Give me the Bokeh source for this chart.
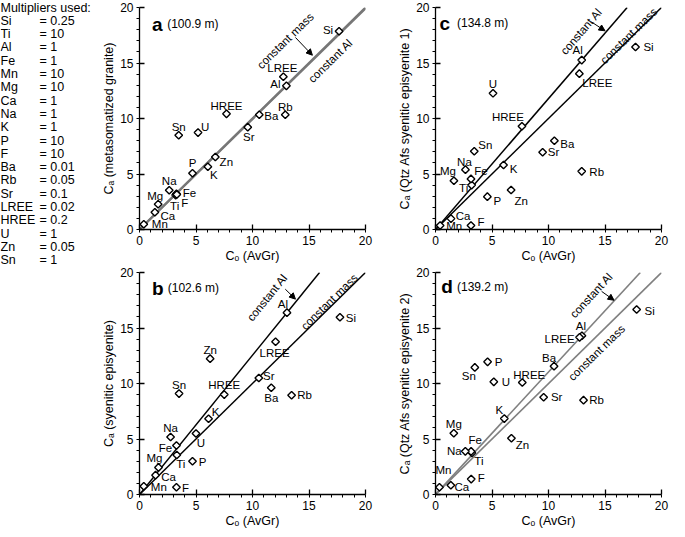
import math
from bokeh.plotting import figure
from bokeh.models import Range1d, Arrow, NormalHead, ColumnDataSource, SingleIntervalTicker
from bokeh.layouts import row, column
from bokeh.embed import file_html
from bokeh.resources import INLINE
from bokeh.core.properties import value

FONT = "Liberation Sans"

# ---------------- data ----------------
elements = ["Si", "Ti", "Al", "Fe", "Mn", "Mg", "Ca", "Na", "K", "P", "F",
            "Ba", "Rb", "Sr", "LREE", "HREE", "U", "Zn", "Sn"]
multipliers = ["0.25", "10", "1", "1", "10", "10", "1", "1", "1", "10", "10",
               "0.01", "0.05", "0.1", "0.02", "0.2", "1", "0.05", "1"]

# panel a (100.9 m) metasomatized granite
co_a = [17.66, 3.20, 13.00, 3.27, 0.38, 1.65, 1.36, 2.63, 6.05, 4.69, 3.30,
        10.60, 12.90, 9.58, 12.73, 7.70, 5.18, 6.71, 3.47]
ca_a = [17.86, 3.10, 12.94, 3.22, 0.47, 2.28, 1.55, 3.54, 5.65, 5.07, 3.15,
        10.34, 10.34, 9.22, 13.76, 10.42, 8.73, 6.53, 8.49]
# panel b (102.6 m) syenitic episyenite
co_b = [17.74, 3.30, 13.05, 3.27, 0.38, 1.68, 1.42, 2.75, 6.11, 4.69, 3.27,
        11.66, 13.46, 10.56, 12.04, 7.50, 5.00, 6.25, 3.50]
ca_b = [15.97, 3.56, 16.38, 4.41, 0.74, 2.44, 1.74, 5.18, 6.82, 3.00, 0.65,
        9.62, 8.94, 10.50, 13.76, 9.00, 5.50, 12.24, 9.09]
# panel c (134.8 m) Qtz Afs syenitic episyenite 1
co_c = [17.70, 3.20, 12.94, 3.14, 0.41, 1.63, 1.37, 2.65, 6.02, 4.59, 3.14,
        10.52, 12.94, 9.48, 12.73, 7.65, 5.09, 6.69, 3.43]
ca_c = [16.44, 4.00, 15.26, 4.56, 0.36, 4.39, 0.98, 5.39, 5.81, 2.96, 0.36,
        8.00, 5.24, 6.96, 14.04, 9.30, 12.27, 3.56, 7.05]
# panel d (139.2 m) Qtz Afs syenitic episyenite 2
co_d = [17.80, 3.22, 12.96, 3.15, 0.35, 1.62, 1.36, 2.64, 6.09, 4.61, 3.16,
        10.49, 13.10, 9.57, 12.75, 7.68, 5.16, 6.72, 3.48]
ca_d = [16.67, 3.75, 14.30, 3.88, 0.65, 5.52, 0.83, 3.89, 6.84, 11.95, 1.39,
        11.56, 8.50, 8.76, 14.16, 10.09, 10.15, 5.07, 11.45]

# ---------------- label placement (screen px, dx right, dy up) ----------------
off_a = [(-11, 1), (-1, -11), (-11, 2), (13, 1), (16, 0), (-3, 8), (13, -4), (0, 9),
         (6, -8), (0, 10), (8, -8), (12, -1), (0, 8), (1, -10), (-1, 9), (0, 8),
         (7, 6), (11, -5), (0, 8)]
off_b = [(11, -1), (4, -9), (-4, 9), (-11, -2), (15, -1), (-4, 9), (13, -2), (0, 9),
         (7, 7), (10, -1), (9, -1), (0, -10), (13, 0), (10, 2), (-1, -11), (0, 10),
         (5, -10), (0, 9), (0, 9)]
off_c = [(13, 0), (-8, -3), (-4, 10), (10, 8), (14, 0), (-6, 10), (12, 3), (-1, 8),
         (10, -4), (10, -4), (10, 4), (13, -3), (15, -1), (11, 0), (18, -9), (-14, 9),
         (0, 9), (10, -11), (11, 6)]
off_d = [(13, -2), (7, -8), (-1, 10), (4, 11), (4, 17), (0, 9), (11, -2), (-11, 0),
         (-5, 9), (11, 0), (10, 1), (-5, 8), (13, 0), (13, 0), (-20, -2), (7, 8),
         (12, 0), (11, -7), (-6, -9)]

FW, FH = 226, 222

panels = {
    "a": dict(depth="(100.9 m)", ylabel="Cₐ (metasomatized granite)", co=co_a, ca=ca_a,
              offs=off_a, color="#777777", lw=2.2, letter_x=1.1, depth_x=2.45, lab_y=18.5,
              mass=(12.9, 17.0), al=(16.9, 15.2), al_detached=False,
              arrow=((13.8, 17.3), (15.3, 15.7))),
    "b": dict(depth="(102.6 m)", ylabel="Cₐ (syenitic episyenite)", co=co_b, ca=ca_b,
              offs=off_b, color="black", lw=1.5, letter_x=1.1, depth_x=2.5, lab_y=18.6,
              mass=(16.8, 17.36), al=(11.3, 17.75), al_detached=True,
              arrow=((12.9, 18.5), (13.8, 17.6))),
    "c": dict(depth="(134.8 m)", ylabel="Cₐ (Qtz Afs syenitic episyenite 1)", co=co_c, ca=ca_c,
              offs=off_c, color="black", lw=1.5, letter_x=0.35, depth_x=1.9, lab_y=18.6,
              mass=(17.1, 17.45), al=(12.9, 17.85), al_detached=True,
              arrow=((13.8, 18.7), (15.0, 17.9))),
    "d": dict(depth="(139.2 m)", ylabel="Cₐ (Qtz Afs syenitic episyenite 2)", co=co_d, ca=ca_d,
              offs=off_d, color="#808080", lw=1.6, letter_x=0.5, depth_x=1.9, lab_y=18.7,
              mass=(14.26, 12.77), al=(13.8, 17.95), al_detached=True,
              arrow=((14.7, 18.3), (15.8, 17.5))),
}


def make_panel(key, border_left, border_right, border_top, border_bottom):
    cfg = panels[key]
    p = figure(frame_width=FW, frame_height=FH, x_range=Range1d(0, 20), y_range=Range1d(0, 20),
               output_backend="svg", toolbar_location=None,
               min_border_left=border_left, min_border_right=border_right,
               min_border_top=border_top, min_border_bottom=border_bottom)
    p.grid.visible = False
    p.outline_line_color = None
    p.background_fill_color = "white"
    p.border_fill_color = "white"
    p.xaxis.axis_label = "Cₒ (AvGr)"
    p.yaxis.axis_label = cfg["ylabel"]
    for ax in (p.xaxis[0], p.yaxis[0]):
        ax.ticker = SingleIntervalTicker(interval=5, num_minor_ticks=5)
        ax.axis_line_width = 1.3
        ax.major_tick_in = 5
        ax.major_tick_out = 0
        ax.minor_tick_in = 0
        ax.minor_tick_out = 3
        ax.major_tick_line_width = 1.3
        ax.minor_tick_line_width = 1
        ax.major_label_text_font = FONT
        ax.major_label_text_font_size = "12px"
        ax.major_label_text_color = "black"
        ax.axis_label_text_font = FONT
        ax.axis_label_text_font_size = "12.5px"
        ax.axis_label_text_font_style = "normal"
        ax.axis_label_text_color = "black"
        ax.major_label_standoff = 3
        ax.axis_label_standoff = 1

    co, ca = cfg["co"], cfg["ca"]
    al_slope = ca[elements.index("Al")] / co[elements.index("Al")]
    # isocons
    for s in (1.0, al_slope):
        xe = min(20.0, 20.0 / s)
        p.line([0, xe], [0, s * xe], line_color=cfg["color"], line_width=cfg["lw"])

    src = ColumnDataSource(dict(x=co, y=ca, t=elements,
                                xo=[o[0] for o in cfg["offs"]],
                                yo=[-o[1] for o in cfg["offs"]]))
    p.scatter("x", "y", source=src, marker="square", angle=math.pi / 4, size=5.4,
              fill_color="white", line_color="black", line_width=1.4)
    p.text("x", "y", text="t", x_offset="xo", y_offset="yo", source=src,
           text_font=value(FONT), text_font_size="11.5px", text_color="black",
           text_align="center", text_baseline="middle")

    # isocon names
    ang_mass = math.atan(1.0 * FH / FW)
    ang_al = math.atan(al_slope * FH / FW)
    p.text(x=[cfg["mass"][0]], y=[cfg["mass"][1]], text=["constant mass"], angle=ang_mass,
           text_font=value(FONT), text_font_size="11.5px", text_color="black",
           text_align="center", text_baseline="middle")
    p.text(x=[cfg["al"][0]], y=[cfg["al"][1]], text=["constant Al"],
           angle=ang_al if cfg["al_detached"] else ang_mass,
           text_font=value(FONT), text_font_size="11.5px", text_color="black",
           text_align="center", text_baseline="middle")
    (x0, y0), (x1, y1) = cfg["arrow"]
    p.add_layout(Arrow(end=NormalHead(size=6, fill_color="black", line_color="black", line_width=1),
                       x_start=x0, y_start=y0, x_end=x1, y_end=y1,
                       line_color="black", line_width=1))

    # panel letter and depth
    p.text(x=[cfg["letter_x"]], y=[cfg["lab_y"]], text=[key], text_font=value(FONT),
           text_font_size="19px", text_font_style="bold", text_color="black",
           text_align="left", text_baseline="middle")
    p.text(x=[cfg["depth_x"]], y=[cfg["lab_y"]], text=[cfg["depth"]], text_font=value(FONT),
           text_font_size="12px", text_color="black",
           text_align="left", text_baseline="middle")
    return p


pa = make_panel("a", 41, 10, 7, 32)
pc = make_panel("c", 60, 8, 7, 32)
pb = make_panel("b", 41, 10, 7, 31)
pd = make_panel("d", 60, 8, 7, 31)

# multipliers list
TH = 521
pt = figure(width=98, height=TH, x_range=Range1d(0, 98), y_range=Range1d(TH, 0),
            output_backend="svg", toolbar_location=None, min_border=0)
pt.axis.visible = False
pt.grid.visible = False
pt.outline_line_color = None
line_y = [7 + 13.3 * (i + 1) for i in range(len(elements))]
pt.text(x=[0], y=[7], text=["Multipliers used:"], text_font=value(FONT),
        text_font_size="12.5px", text_color="black", text_align="left", text_baseline="middle")
pt.text(x=[0] * len(elements), y=line_y, text=elements, text_font=value(FONT),
        text_font_size="12.5px", text_color="black", text_align="left", text_baseline="middle")
pt.text(x=[39] * len(elements), y=line_y, text=["= " + m for m in multipliers], text_font=value(FONT),
        text_font_size="12.5px", text_color="black", text_align="left", text_baseline="middle")

layout = row(pt, column(row(pa, pc), row(pb, pd)))
open("out.html", "w").write(file_html(layout, INLINE))
